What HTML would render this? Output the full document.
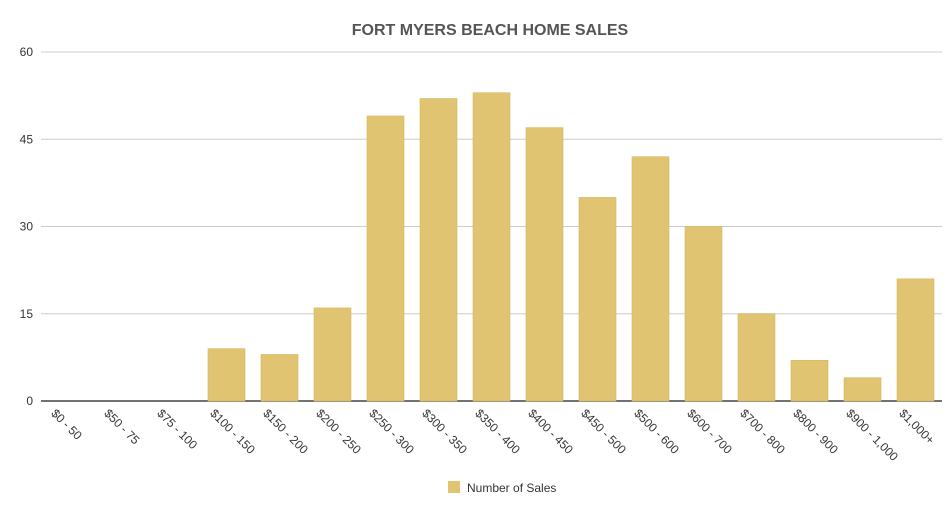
<!DOCTYPE html>
<html><head><meta charset="utf-8"><style>
body{margin:0;background:#fff;}
svg{display:block;font-family:"Liberation Sans",Arial,sans-serif;}
</style></head><body>
<svg id="chart" width="950" height="523">
<text x="490" y="35" text-anchor="middle" font-size="16" font-weight="bold" fill="#555">FORT MYERS BEACH HOME SALES</text>
<g id="grid"></g><g id="bars"></g><g id="xlabels"></g>
<g>
<rect x="448" y="481" width="12" height="12" fill="#E0C472"/>
<text x="467" y="492" font-size="12" fill="#333">Number of Sales</text>
</g>
</svg>
<script>
const categories=["$0 - 50","$50 - 75","$75 - 100","$100 - 150","$150 - 200","$200 - 250","$250 - 300","$300 - 350","$350 - 400","$400 - 450","$450 - 500","$500 - 600","$600 - 700","$700 - 800","$800 - 900","$900 - 1,000","$1,000+"];
const sales=[0,0,0,9,8,16,49,52,53,47,35,42,30,15,7,4,21];
const yTicks=[0,15,30,45,60];
const NS="http://www.w3.org/2000/svg";
const L=41,R=942,T=52,B=401,YMAX=60;
const step=(R-L)/categories.length;
const y=v=>B-(v/YMAX)*(B-T);
const xc=i=>L+step*(i+0.5);
function mk(t,a){const e=document.createElementNS(NS,t);for(const k in a)e.setAttribute(k,a[k]);return e;}
const grid=document.getElementById('grid');
yTicks.forEach(t=>{
 const ln=mk('line',{x1:L,x2:R,y1:y(t),y2:y(t),stroke:t===0?'#444':'#ccc','stroke-width':t===0?1.5:1});
 
 
 grid.appendChild(ln);
 const tx=mk('text',{x:33,y:y(t)+4,'text-anchor':'end','font-size':12,fill:'#333'});
 tx.textContent=t;
 
 
 grid.appendChild(tx);
});
const bars=document.getElementById('bars'),xl=document.getElementById('xlabels');
const bw=37;
sales.forEach((v,i)=>{
 if(v>0){
 const r=mk('rect',{x:xc(i)-bw/2,y:y(v),width:bw,height:B-y(v),fill:'#E0C472',stroke:'#D6B85E','stroke-width':0.6});
 
 
 bars.appendChild(r);}
});
categories.forEach((c,i)=>{
 const sx=xc(i)-17,sy=414;
 const t=mk('text',{x:sx,y:sy,'font-size':12,fill:'#333',transform:`rotate(45 ${sx} ${sy})`});
 t.textContent=c;
 
 
 xl.appendChild(t);
});
</script>
</body></html>
